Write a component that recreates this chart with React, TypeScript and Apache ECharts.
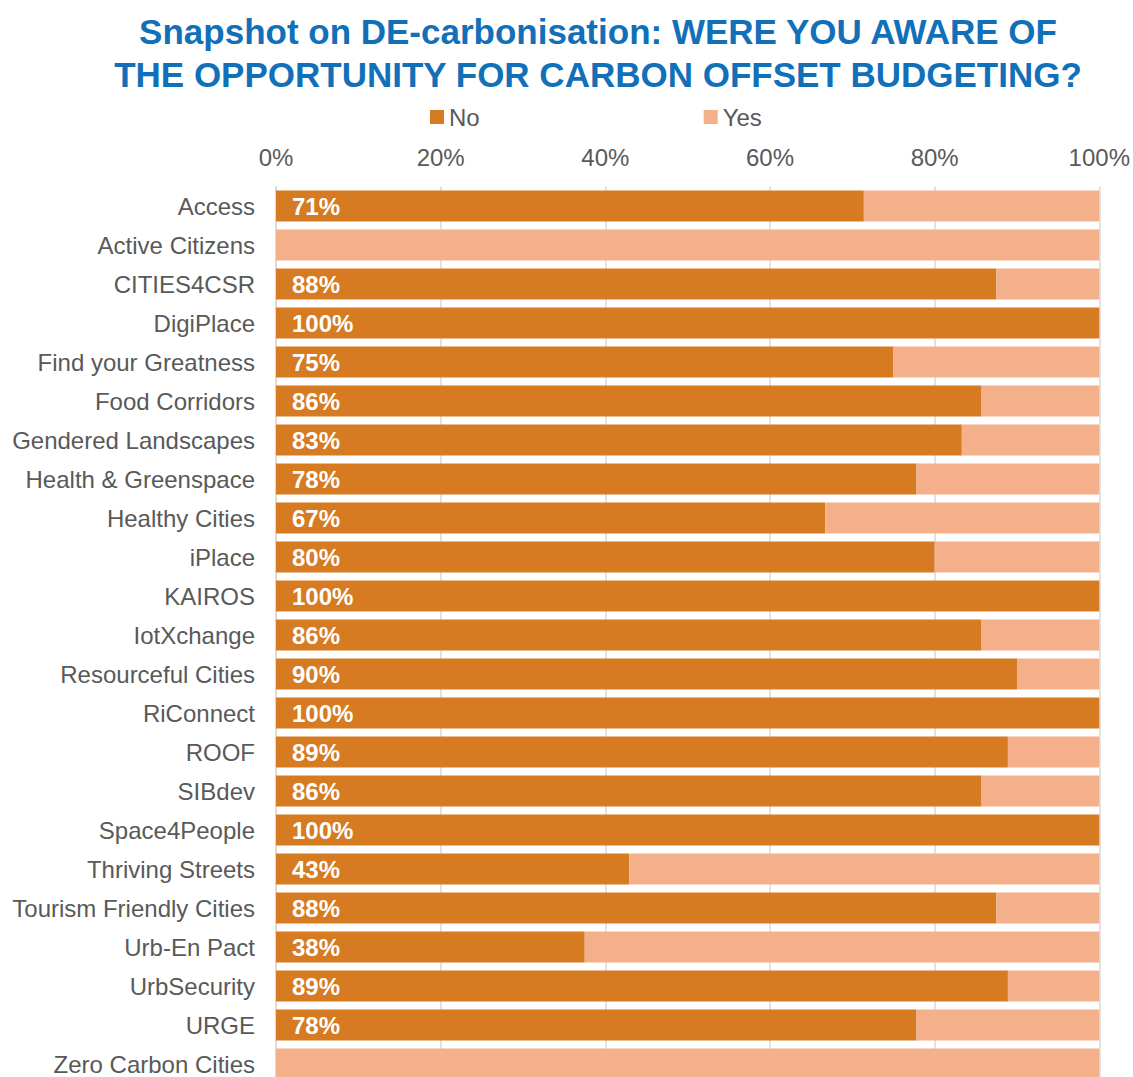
import React, { useEffect, useRef } from "react";
import * as echarts from "echarts";

const categories = [
  "Access", "Active Citizens", "CITIES4CSR", "DigiPlace", "Find your Greatness",
  "Food Corridors", "Gendered Landscapes", "Health & Greenspace", "Healthy Cities",
  "iPlace", "KAIROS", "IotXchange", "Resourceful Cities", "RiConnect", "ROOF",
  "SIBdev", "Space4People", "Thriving Streets", "Tourism Friendly Cities",
  "Urb-En Pact", "UrbSecurity", "URGE", "Zero Carbon Cities",
];
const noValues = [71.4, 0, 87.5, 100, 75, 85.7, 83.3, 77.8, 66.7, 80, 100, 85.7, 90, 100, 88.9, 85.7, 100, 42.9, 87.5, 37.5, 88.9, 77.8, 0];
const yesValues = [28.6, 100, 12.5, 0, 25, 14.3, 16.7, 22.2, 33.3, 20, 0, 14.3, 10, 0, 11.1, 14.3, 0, 57.1, 12.5, 62.5, 11.1, 22.2, 100];
const titleText = "Snapshot on DE-carbonisation: WERE YOU AWARE OF\nTHE OPPORTUNITY FOR CARBON OFFSET BUDGETING?";

export default function App() {
  const ref = useRef<HTMLDivElement>(null);
  useEffect(() => {
    document.body.style.margin = "0";
    const chart = echarts.init(ref.current!, null, { renderer: "svg" });
    const font = "Liberation Sans, Arial, sans-serif";
    chart.setOption({
      animation: false,
      textStyle: { fontFamily: font },
      title: {
        text: titleText,
        left: 593,
        textAlign: "center",
        top: 5,
        textStyle: { fontSize: 35, fontWeight: "bold", color: "#1170B8", lineHeight: 43, fontFamily: font },
      },
      legend: {
        left: 425,
        top: 100,
        itemWidth: 14,
        itemHeight: 14,
        itemGap: 224,
        icon: "rect",
        textStyle: { fontSize: 24, color: "#595959", fontFamily: font },
        data: ["No", "Yes"],
      },
      grid: { left: 276, right: 31, top: 186.5, bottom: 16.5 },
      xAxis: {
        type: "value",
        position: "top",
        min: 0,
        max: 100,
        interval: 20,
        axisLabel: { formatter: "{value}%", fontSize: 24, color: "#595959", margin: 17, fontFamily: font },
        axisLine: { show: false },
        axisTick: { show: false },
        splitLine: { lineStyle: { color: "#D9D9D9", width: 1.5 } },
      },
      yAxis: {
        type: "category",
        inverse: true,
        data: categories,
        axisTick: { show: false },
        axisLine: { show: true, lineStyle: { color: "#D9D9D9", width: 1.5 } },
        axisLabel: { fontSize: 24, color: "#595959", margin: 21, fontFamily: font },
      },
      series: [
        {
          name: "No",
          type: "bar",
          stack: "total",
          barCategoryGap: "20%",
          data: noValues,
          itemStyle: { color: "#D67B22" },
          label: {
            show: true,
            position: "insideLeft",
            distance: 16,
            color: "#FFFFFF",
            fontWeight: "bold",
            fontSize: 24,
            fontFamily: font,
            formatter: (p: any) => (p.value > 0 ? Math.round(p.value) + "%" : ""),
          },
        },
        {
          name: "Yes",
          type: "bar",
          stack: "total",
          barCategoryGap: "20%",
          data: yesValues,
          itemStyle: { color: "#F4B08A" },
        },
      ],
    });
    return () => chart.dispose();
  }, []);
  return (
    <div style={{ position: "fixed", left: 0, top: 0, width: 1133, height: 1077, overflow: "hidden", background: "#fff" }}>
      <div ref={ref} style={{ width: 1133, height: 1100 }} />
    </div>
  );
}
